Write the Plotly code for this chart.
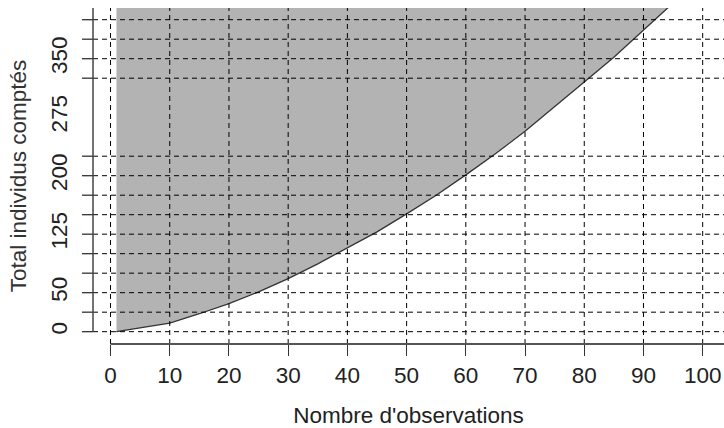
import plotly.graph_objects as go

# ---- data ----
n_obs = [1, 5, 10, 15, 20, 25, 30, 35, 40, 45, 50, 55, 60, 65, 70, 75, 80, 85, 90, 95, 100]
total_counted = [0, 5, 11, 23, 36, 51, 68, 87, 107, 128, 151, 175, 201, 228, 257, 288, 320, 352, 386, 420, 456]

x_ticks = [0, 10, 20, 30, 40, 50, 60, 70, 80, 90, 100]
y_tick_marks = [0, 25, 50, 75, 100, 125, 150, 175, 200, 225, 325, 350, 375, 400]
y_tick_labels = [0, 50, 125, 200, 275, 350]
v_grid = x_ticks
h_grid = y_tick_marks

fill_top = 600  # polygon goes above the visible area

X_RANGE = [-2.96, 103.6]
Y_RANGE = [-15.8, 415]
FONT = "Liberation Sans, Arial, Helvetica, sans-serif"
FS = 22.5

fig = go.Figure()

# shaded region above the curve
poly_x = n_obs + [n_obs[-1], n_obs[0]]
poly_y = total_counted + [fill_top, fill_top]
fig.add_trace(go.Scatter(x=poly_x, y=poly_y, mode="lines", fill="toself",
                         fillcolor="#B3B3B3", line=dict(width=0),
                         hoverinfo="skip", showlegend=False))
# boundary curve
fig.add_trace(go.Scatter(x=n_obs, y=total_counted, mode="lines",
                         line=dict(color="#333333", width=1.3),
                         showlegend=False))

shapes = []
dash = "5px,4px"
for v in v_grid:
    shapes.append(dict(type="line", xref="x", yref="paper", x0=v, x1=v, y0=0, y1=1,
                       line=dict(color="black", width=1, dash=dash), layer="above"))
for h in h_grid:
    shapes.append(dict(type="line", xref="paper", yref="y", x0=0, x1=1, y0=h, y1=h,
                       line=dict(color="black", width=1, dash=dash), layer="above"))

plot_w = 724 - 93
tick_frac = 11 / plot_w
# y tick marks
for h in y_tick_marks:
    shapes.append(dict(type="line", xref="paper", yref="y", x0=-tick_frac, x1=0, y0=h, y1=h,
                       line=dict(color="#333333", width=1.3), layer="above"))
# y axis line (from 0 to top)
shapes.append(dict(type="line", xref="paper", yref="y", x0=0, x1=0, y0=0, y1=Y_RANGE[1],
                   line=dict(color="#444444", width=1.5), layer="above"))
# x axis line (from 0 to right edge)
shapes.append(dict(type="line", xref="x", yref="paper", x0=0, x1=X_RANGE[1], y0=0, y1=0,
                   line=dict(color="#555555", width=2), layer="above"))

fig.update_layout(
    width=724, height=428,
    margin=dict(l=93, r=0, t=8, b=84),
    paper_bgcolor="white", plot_bgcolor="white",
    shapes=shapes,
    showlegend=False,
    font=dict(family=FONT, size=FS, color="#222222"),
    xaxis=dict(range=X_RANGE, tickvals=x_ticks, ticktext=[str(v) for v in x_ticks],
               ticks="outside", ticklen=11, tickwidth=1.3, tickcolor="#333333",
               showgrid=False, zeroline=False, showline=False,
               tickfont=dict(size=FS, color="#222222"),
               title=dict(text="Nombre d'observations", font=dict(size=FS, color="#222222"),
                          standoff=22)),
    yaxis=dict(range=Y_RANGE, tickvals=y_tick_labels, ticktext=[str(v) for v in y_tick_labels],
               ticks="", ticklabelstandoff=21, tickangle=-90,
               showgrid=False, zeroline=False, showline=False,
               tickfont=dict(size=FS, color="#222222"),
               title=dict(text="Total individus comptés", font=dict(size=FS, color="#333333"),
                          standoff=13)),
)

fig.write_html("out.html")
